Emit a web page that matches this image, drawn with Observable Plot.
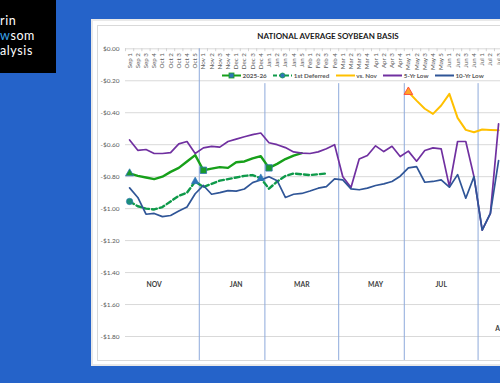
<!DOCTYPE html>
<html>
<head>
<meta charset="utf-8">
<script src="https://cdn.jsdelivr.net/npm/d3@7"></script>
<script src="https://cdn.jsdelivr.net/npm/@observablehq/plot@0.6"></script>
<style>
html,body{margin:0;padding:0;width:500px;height:383px;overflow:hidden;background:#2563c9;font-family:Lato,"Open Sans",sans-serif;}
#logo{position:absolute;left:0;top:0;width:56px;height:73px;background:#000;color:#fff;}
#logo .ln{position:absolute;left:0;font-size:12.5px;line-height:15px;letter-spacing:0.6px;white-space:nowrap;}
#logo .hl{color:#3aa3ea;}
#panel{position:absolute;left:91px;top:19px;width:520px;height:347px;background:#e9e9e9;}
#inner{position:absolute;left:93px;top:21px;width:520px;height:343px;background:#fff;}
#border{position:absolute;left:97px;top:25px;width:510px;height:336px;border:1px solid #d9d9d9;box-sizing:border-box;}
#chart{position:absolute;left:0;top:0;width:640px;height:383px;}
#chart svg{max-width:none;}
#title{position:absolute;left:228px;top:31px;width:200px;text-align:center;font-size:8px;line-height:10px;font-weight:700;color:#1a1a1a;white-space:nowrap;}
#legend{position:absolute;left:222px;top:71px;height:8px;display:flex;align-items:center;gap:6.5px;font-size:6.3px;font-weight:700;color:#595959;white-space:nowrap;}
#legend .item{display:flex;align-items:center;gap:1.5px;}
#legend svg{display:block;}
</style>
</head>
<body>
<div id="logo"><div class="ln" style="top:13px">rin</div><div class="ln" style="top:28px"><span class="hl">w</span>som</div><div class="ln" style="top:43px">alysis</div></div>
<div id="panel"></div>
<div id="inner"></div>
<div id="border"></div>
<div id="chart"></div>
<div id="title">NATIONAL AVERAGE SOYBEAN BASIS</div>
<div id="legend"></div>
<script>
// ---- categories (weeks) ----
const categories = ["Sep 1","Sep 2","Sep 3","Sep 4","Oct 1","Oct 2","Oct 3","Oct 4","Oct 5",
  "Nov 1","Nov 2","Nov 3","Nov 4","Dec 1","Dec 2","Dec 3","Dec 4",
  "Jan 1","Jan 2","Jan 3","Jan 4","Jan 5","Feb 1","Feb 2","Feb 3","Feb 4",
  "Mar 1","Mar 2","Mar 3","Mar 4","Apr 1","Apr 2","Apr 3","Apr 4",
  "May 1","May 2","May 3","May 4","May 5","Jun 1","Jun 2","Jun 3","Jun 4",
  "Jul 1","Jul 2","Jul 3"];

// ---- series values ($/bu basis), each starting at its first week ----
const season2526Start = "Sep 1";
const season2526 = [-0.78,-0.795,-0.805,-0.815,-0.80,-0.77,-0.745,-0.705,-0.665,-0.76,-0.75,-0.74,-0.745,-0.71,-0.705,-0.685,-0.672,-0.745,-0.72,-0.69,-0.668,-0.653];
const firstDeferredStart = "Sep 1";
const firstDeferred = [-0.955,-0.985,-1.0,-1.005,-0.99,-0.955,-0.92,-0.9,-0.83,-0.865,-0.845,-0.825,-0.815,-0.805,-0.795,-0.79,-0.81,-0.875,-0.83,-0.795,-0.78,-0.785,-0.79,-0.785,-0.78];
const vsNovStart = "May 1";
const vsNov = [-0.27,-0.324,-0.375,-0.407,-0.355,-0.282,-0.432,-0.507,-0.522,-0.505,-0.508,-0.51];
const fiveYrLowStart = "Sep 1";
const fiveYrLow = [-0.57,-0.635,-0.63,-0.655,-0.655,-0.65,-0.595,-0.58,-0.655,-0.62,-0.61,-0.615,-0.58,-0.565,-0.55,-0.537,-0.527,-0.588,-0.60,-0.618,-0.645,-0.653,-0.655,-0.645,-0.625,-0.60,-0.80,-0.868,-0.69,-0.668,-0.607,-0.643,-0.61,-0.674,-0.64,-0.703,-0.636,-0.62,-0.626,-0.862,-0.58,-0.58,-0.80,-1.135,-1.03,-0.47];
const tenYrLowStart = "Sep 1";
const tenYrLow = [-0.87,-0.93,-1.035,-1.03,-1.05,-1.043,-1.015,-0.99,-0.907,-0.855,-0.91,-0.90,-0.887,-0.89,-0.877,-0.837,-0.82,-0.80,-0.825,-0.93,-0.91,-0.905,-0.89,-0.872,-0.862,-0.814,-0.82,-0.876,-0.882,-0.872,-0.855,-0.845,-0.83,-0.797,-0.745,-0.737,-0.835,-0.83,-0.82,-0.866,-0.787,-0.935,-0.80,-1.135,-1.03,-0.70];

// ---- markers (weeks where a point is marked) ----
const season2526Triangles = ["Sep 1"];
const season2526Squares = ["Nov 1","Jan 1"];
const firstDeferredCircles = ["Sep 1"];
const firstDeferredTriangles = ["Oct 5","Dec 4"];
const vsNovTriangles = ["May 1"];

// ---- contract periods ----
const contractStarts = ["Nov 1","Jan 1","Mar 1","May 1","Jul 1"];
const contractLabels = ["NOV","JAN","MAR","MAY","JUL","AUG"];
const contractLabelWeeks = ["Sep 4","Dec 1","Jan 5","Apr 1","May 5","Jul 3"];

// ---- y ticks ----
const yTicks = [0,-0.2,-0.4,-0.6,-0.8,-1.0,-1.2,-1.4,-1.6,-1.8];

// ---- styles ----
const C = {season:"#17a01a", deferred:"#0f9a4a", vsNov:"#ffc000", five:"#7030a0", ten:"#2f5597", vline:"#8eaadb"};
const series = [
  {name:"2025-26", start:season2526Start, values:season2526, color:C.season, width:2.4, dash:null, sym:"square"},
  {name:"1st Deferred", start:firstDeferredStart, values:firstDeferred, color:C.deferred, width:2.4, dash:"5,3", sym:"circle"},
  {name:"vs. Nov", start:vsNovStart, values:vsNov, color:C.vsNov, width:2, dash:null, sym:null},
  {name:"5-Yr Low", start:fiveYrLowStart, values:fiveYrLow, color:C.five, width:1.7, dash:null, sym:null},
  {name:"10-Yr Low", start:tenYrLowStart, values:tenYrLow, color:C.ten, width:1.7, dash:null, sym:null}
];

const X = w => categories.indexOf(w);
const rows = s => s.values.map((v, j) => ({x: X(s.start) + j, y: v}));
const pts = (s, weeks) => weeks.map(w => ({x: X(w), y: s.values[X(w) - X(s.start)]}));
const N = categories.length;
const step = 8.2;
const fmt = v => v === 0 ? "$0.00" : "-$" + Math.abs(v).toFixed(2);
const labelRows = contractLabels.map((d, i) => ({label: d, x: X(contractLabelWeeks[i])}));

const chart = Plot.plot({
  width: 125 + N * step,
  height: 383,
  marginLeft: 125, marginRight: 0, marginTop: 48.3, marginBottom: 23,
  x: {domain: [-0.5, N - 0.5], axis: null},
  y: {domain: [-1.95, 0], axis: null},
  style: {background: "transparent", fontFamily: "Lato, 'Open Sans', sans-serif", overflow: "visible", maxWidth: "none"},
  marks: [
    Plot.ruleY(yTicks, {stroke: "#d9d9d9", strokeWidth: 1}),
    Plot.ruleX(categories, {x: (d, i) => i - 0.5, y1: 0, y2: -0.018, stroke: "#c8c8c8", strokeWidth: 0.8}),
    Plot.ruleX(contractStarts, {x: d => X(d) - 0.5, y1: (d, i) => i === 0 ? 0 : -0.218, y2: -1.95, stroke: C.vline, strokeWidth: 1}),
    Plot.text(yTicks, {x: -0.5, y: d => d, text: fmt, textAnchor: "end", dx: -6, fill: "#595959", fontSize: 6.5}),
    Plot.text(categories, {x: (d, i) => i, y: -0.027, text: d => d, rotate: -90, textAnchor: "end", fill: "#595959", fontSize: 6.2}),
    Plot.text(labelRows.filter(d => d.label !== "AUG"), {x: "x", y: -1.475, text: "label", fill: "#404040", fontSize: 6.8, fontWeight: "bold"}),
    Plot.text(labelRows.filter(d => d.label === "AUG"), {x: "x", y: -1.75, text: "label", dx: 4, fill: "#404040", fontSize: 6.8, fontWeight: "bold"}),
    ...series.map(s => Plot.line(rows(s), {x: "x", y: "y", stroke: s.color, strokeWidth: s.width, strokeDasharray: s.dash, strokeLinejoin: "round"})),
    Plot.dot(pts(series[0], season2526Triangles), {x: "x", y: "y", symbol: "triangle", r: 3, fill: "#1a9a2a", stroke: "#2e75b6", strokeWidth: 0.8}),
    Plot.dot(pts(series[0], season2526Squares), {x: "x", y: "y", symbol: "square", r: 3.6, fill: "#1a9a2a", stroke: "#2e75b6", strokeWidth: 0.8}),
    Plot.dot(pts(series[1], firstDeferredCircles), {x: "x", y: "y", symbol: "circle", r: 3.2, fill: "#1b8f7a", stroke: "#2e75b6", strokeWidth: 0.6}),
    Plot.dot(pts(series[1], firstDeferredTriangles), {x: "x", y: "y", symbol: "triangle", r: 2.8, fill: "#2e75b6", stroke: "#2e75b6", strokeWidth: 0.6}),
    Plot.dot(pts(series[2], vsNovTriangles), {x: "x", y: "y", symbol: "triangle", r: 3.2, fill: "#ffa726", stroke: "#ff4d3a", strokeWidth: 1})
  ]
});
document.getElementById("chart").appendChild(chart);

// legend
const legend = d3.select("#legend");
series.forEach(s => {
  const item = legend.append("span").attr("class", "item");
  const svg = item.append("svg").attr("width", 19).attr("height", 7);
  svg.append("line").attr("x1", 0).attr("x2", 19).attr("y1", 3.5).attr("y2", 3.5)
    .attr("stroke", s.color).attr("stroke-width", 2).attr("stroke-dasharray", s.dash ? "4,2" : null);
  if (s.sym === "square") svg.append("rect").attr("x", 7).attr("y", 1).attr("width", 5).attr("height", 5).attr("fill", "#2e75b6").attr("stroke", s.color).attr("stroke-width", 0.8);
  if (s.sym === "circle") svg.append("circle").attr("cx", 9.5).attr("cy", 3.5).attr("r", 2.5).attr("fill", "#2e75b6").attr("stroke", s.color).attr("stroke-width", 0.8);
  item.append("span").text(s.name);
});
</script>
</body>
</html>
